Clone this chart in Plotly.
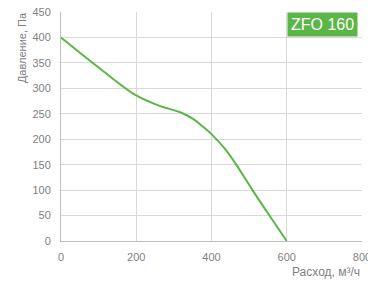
import plotly.graph_objects as go

flow = [0, 100, 200, 264, 317, 353, 380, 400, 437, 464, 509, 554, 600]
pressure = [400, 341, 286, 265, 253, 239, 223, 210, 180, 152, 100, 50, 0]
x_ticks = [0, 200, 400, 600, 800]
y_ticks = [0, 50, 100, 150, 200, 250, 300, 350, 400, 450]

green = "#5BB647"
tick_col = "#7F7F7F"
font = "Liberation Sans"

fig = go.Figure()
fig.add_trace(go.Scatter(x=flow, y=pressure, mode="lines",
                         line=dict(color=green, width=2, shape="spline", smoothing=1),
                         hoverinfo="skip", showlegend=False))

fig.update_layout(
    width=368, height=281,
    margin=dict(l=61, r=6, t=12, b=40, autoexpand=False),
    paper_bgcolor="white", plot_bgcolor="white",
    font=dict(family=font, size=11, color=tick_col),
    xaxis=dict(range=[0, 800], tickvals=x_ticks, showgrid=True, gridcolor="#D9D9D9",
               gridwidth=1, showline=True, linecolor="#BFBFBF", linewidth=1,
               zeroline=False, ticks="", ticklabelstandoff=6, automargin=False,
               ticklabeloverflow="allow",
               tickfont=dict(size=11, color=tick_col)),
    yaxis=dict(range=[0, 450], tickvals=y_ticks, showgrid=True, gridcolor="#D9D9D9",
               gridwidth=1, showline=True, linecolor="#BFBFBF", linewidth=1,
               zeroline=False, ticks="", ticklabelstandoff=7, automargin=False,
               ticklabeloverflow="allow",
               tickfont=dict(size=11, color=tick_col)),
    annotations=[
        dict(text="Давление, Па", xref="paper", yref="paper", x=-0.13, y=1.01,
             xanchor="center", yanchor="top", textangle=-90, showarrow=False,
             font=dict(size=11, color=tick_col, family=font)),
        dict(text="Расход, м³/ч", xref="paper", yref="paper", x=1.0, y=-0.135,
             xanchor="right", yanchor="middle", showarrow=False,
             font=dict(size=12, color=tick_col, family=font)),
        dict(text="ZFO 160", xref="paper", yref="paper", x=0.987, y=1.0,
             xanchor="right", yanchor="top", showarrow=False,
             bgcolor=green, borderpad=3,
             font=dict(size=16, color="white", family=font)),
    ],
)

fig.write_html("out.html",
               config={"displayModeBar": False, "staticPlot": True},
               post_script="document.body.style.margin='0';document.body.style.overflow='hidden';")
